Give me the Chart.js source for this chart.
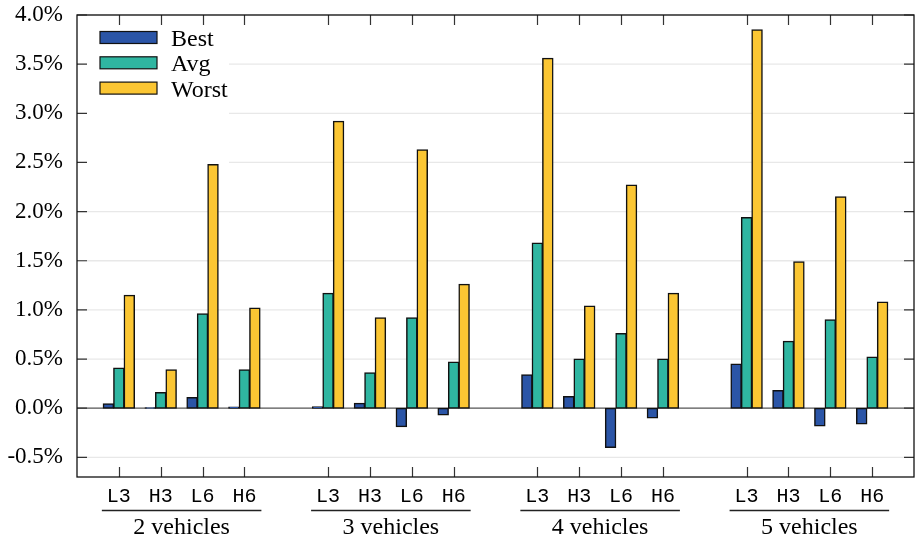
<!DOCTYPE html>
<html><head><meta charset="utf-8">
<script src="https://cdn.jsdelivr.net/npm/chart.js@4/dist/chart.umd.min.js"></script>
<style>html,body{margin:0;padding:0;background:#fff;} canvas{display:block;}</style>
</head><body>
<canvas id="c" width="916" height="538"></canvas>
<script>
const groupNames = ['2 vehicles', '3 vehicles', '4 vehicles', '5 vehicles'];
const configNames = ['L3', 'H3', 'L6', 'H6'];
const seriesNames = ['Best', 'Avg', 'Worst'];
// values in %, order: group (2..5 vehicles) x config (L3,H3,L6,H6)
const bestValues  = [0.045, 0.005, 0.11, 0.012,  0.015, 0.05, -0.19, -0.07,  0.34, 0.12, -0.40, -0.10,  0.45, 0.18, -0.18, -0.16];
const avgValues   = [0.41, 0.16, 0.96, 0.39,  1.17, 0.36, 0.92, 0.47,  1.68, 0.50, 0.76, 0.50,  1.94, 0.68, 0.90, 0.52];
const worstValues = [1.15, 0.39, 2.48, 1.02,  2.92, 0.92, 2.63, 1.26,  3.56, 1.04, 2.27, 1.17,  3.85, 1.49, 2.15, 1.08];
const yTickValues = [-0.5, 0, 0.5, 1, 1.5, 2, 2.5, 3, 3.5, 4];
const seriesColors = ['#2b55a7', '#2fb6a1', '#fbc633'];

const serif = '"Liberation Serif", "Times New Roman", serif';
const mono = '"Liberation Mono", "Courier New", monospace';

// build slot labels with an empty slot at the ends and between groups
const labels = [''];
const slotIndex = [];
groupNames.forEach(() => {
  configNames.forEach(c => { slotIndex.push(labels.length); labels.push(c); });
  labels.push('');
});
function pad(vals) {
  const arr = new Array(labels.length).fill(null);
  vals.forEach((v, i) => { arr[slotIndex[i]] = v; });
  return arr;
}
const seriesValues = [bestValues, avgValues, worstValues];

const framePlugin = {
  id: 'frame',
  beforeDatasetsDraw(chart) {
    const {ctx, chartArea: a, scales: {y}} = chart;
    ctx.save();
    ctx.strokeStyle = '#e8e8e8';
    ctx.lineWidth = 1.3;
    yTickValues.forEach(v => {
      if (v === 0) return;
      const py = y.getPixelForValue(v);
      ctx.beginPath(); ctx.moveTo(a.left, py); ctx.lineTo(a.right, py); ctx.stroke();
    });
    // legend background
    ctx.fillStyle = '#fff';
    ctx.fillRect(a.left + 1, a.top + 1, 151, 165);
    // zero line
    const z = y.getPixelForValue(0);
    ctx.strokeStyle = '#555';
    ctx.beginPath(); ctx.moveTo(a.left, z); ctx.lineTo(a.right, z); ctx.stroke();
    ctx.restore();
  },
  afterDatasetsDraw(chart) {
    const {ctx, chartArea: a, scales: {x, y}} = chart;
    ctx.save();
    // inward ticks
    ctx.strokeStyle = '#333';
    ctx.lineWidth = 1.2;
    slotIndex.forEach(idx => {
      const px = Math.round(x.getPixelForValue(idx)) + 0.5;
      ctx.beginPath();
      ctx.moveTo(px, a.bottom); ctx.lineTo(px, a.bottom - 10);
      ctx.moveTo(px, a.top); ctx.lineTo(px, a.top + 10);
      ctx.stroke();
    });
    yTickValues.forEach(v => {
      const py = y.getPixelForValue(v);
      ctx.beginPath();
      ctx.moveTo(a.left, py); ctx.lineTo(a.left + 10, py);
      ctx.moveTo(a.right, py); ctx.lineTo(a.right - 10, py);
      ctx.stroke();
    });
    // frame
    ctx.strokeStyle = '#111';
    ctx.lineWidth = 1.3;
    ctx.strokeRect(a.left, a.top, a.right - a.left, a.bottom - a.top);
    // legend
    chart.data.datasets.forEach((ds, i) => {
      const bx = a.left + 23, by = a.top + 16.5 + i * 25.3;
      ctx.fillStyle = ds.backgroundColor;
      ctx.fillRect(bx, by, 57, 12);
      ctx.strokeStyle = '#111';
      ctx.lineWidth = 1.2;
      ctx.strokeRect(bx, by, 57, 12);
      ctx.fillStyle = '#000';
      ctx.font = '24px ' + serif;
      ctx.textAlign = 'left';
      ctx.textBaseline = 'alphabetic';
      ctx.fillText(ds.label, bx + 71, by + 14.5);
    });
    // group brackets and labels
    groupNames.forEach((g, gi) => {
      const x1 = x.getPixelForValue(slotIndex[gi * 4]) - 17;
      const x2 = x.getPixelForValue(slotIndex[gi * 4 + 3]) + 17;
      const ly = a.bottom + 33.5;
      ctx.strokeStyle = '#222';
      ctx.lineWidth = 1.3;
      ctx.beginPath(); ctx.moveTo(x1, ly); ctx.lineTo(x2, ly); ctx.stroke();
      ctx.fillStyle = '#000';
      ctx.font = '24px ' + serif;
      ctx.textAlign = 'center';
      ctx.textBaseline = 'alphabetic';
      ctx.fillText(g, (x1 + x2) / 2, a.bottom + 56.5);
    });
    ctx.restore();
  }
};

new Chart(document.getElementById('c').getContext('2d'), {
  type: 'bar',
  data: {
    labels: labels,
    datasets: seriesNames.map((n, i) => ({
      label: n,
      data: pad(seriesValues[i]),
      backgroundColor: seriesColors[i],
      borderColor: '#111',
      borderWidth: 1.5,
      borderSkipped: false,
      inflateAmount: 0.5,
      barPercentage: 1,
      categoryPercentage: 0.75
    }))
  },
  options: {
    responsive: false,
    animation: false,
    devicePixelRatio: 1,
    layout: {padding: {top: 15, right: 2, left: 0, bottom: 0}},
    plugins: {legend: {display: false}, tooltip: {enabled: false}},
    scales: {
      x: {
        type: 'category',
        offset: false,
        grid: {display: false, drawTicks: false},
        border: {display: false},
        ticks: {font: {family: mono, size: 20}, color: '#000', padding: 8, autoSkip: false, maxRotation: 0},
        afterFit(s) { s.height = 61; s.paddingLeft = 0; s.paddingRight = 0; }
      },
      y: {
        min: -0.7,
        max: 4.0,
        grid: {display: false, drawTicks: false},
        border: {display: false},
        ticks: {font: {family: serif, size: 23}, color: '#000', padding: 14, callback: v => v.toFixed(1) + '%'},
        afterBuildTicks(s) { s.ticks = yTickValues.map(v => ({value: v})); },
        afterFit(s) { s.width = 77; s.paddingTop = 0; s.paddingBottom = 0; }
      }
    }
  },
  plugins: [framePlugin]
});
</script>
</body></html>
